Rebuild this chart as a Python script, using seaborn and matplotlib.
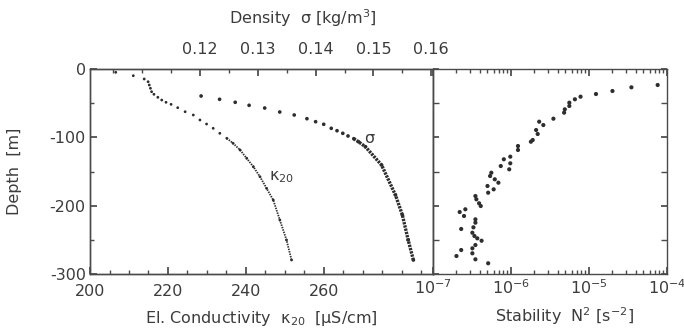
import matplotlib
matplotlib.use("Agg")
import matplotlib.pyplot as plt
import seaborn as sns
import pandas as pd
from matplotlib.ticker import MultipleLocator, FixedLocator, LogLocator, NullFormatter

# ---- data ----
kappa_cond = [206.6, 211.1, 213.9, 214.9, 215.2, 215.5, 215.8, 216.4, 217.4, 218.4,
              219.5, 220.8, 222.5, 224.4, 226.5, 228.2, 229.9, 231.6, 233.3, 235.1,
              236.7, 238.5, 240.2, 241.9, 243.6, 245.3, 247.0, 248.7, 250.4, 251.7]
kappa_depth = [-4.8, -9.8, -14.6, -18.6, -23.4, -28.2, -33.2, -37.0, -41.4, -45.4,
               -48.7, -51.7, -56.6, -62.5, -67.3, -74.6, -80.5, -86.8, -94.1, -101.4,
               -108.7, -118.5, -130.7, -143.0, -157.6, -174.6, -191.7, -221.0, -250.2, -279.5]

sigma_dens = [0.1202, 0.1234, 0.1261, 0.1285, 0.1312, 0.1338, 0.1363, 0.1385, 0.1400,
              0.1414, 0.1427, 0.1437, 0.1447, 0.1456, 0.1466, 0.1474, 0.1486, 0.1514,
              0.1538, 0.1550, 0.1560, 0.1569]
sigma_depth = [-39.5, -44.3, -48.7, -53.1, -57.1, -62.9, -67.3, -72.7, -77.1,
               -80.9, -86.8, -90.3, -94.1, -98.0, -102.0, -106.4, -113.7, -140.5,
               -184.4, -213.7, -250.2, -279.5]

n2_vals = [7.6e-5, 3.5e-5, 2.0e-5, 1.23e-5, 7.8e-6, 6.6e-6, 5.6e-6, 5.6e-6, 4.9e-6, 4.8e-6,
           3.5e-6, 2.3e-6, 2.6e-6, 2.1e-6, 2.2e-6, 1.9e-6, 1.8e-6, 1.23e-6, 1.23e-6, 9.8e-7,
           8.1e-7, 9.8e-7, 7.4e-7, 9.5e-7, 5.6e-7, 5.4e-7, 6.2e-7, 6.9e-7, 5.0e-7, 6.0e-7,
           5.1e-7, 3.5e-7, 3.6e-7, 3.9e-7, 4.1e-7, 2.6e-7, 2.2e-7, 2.5e-7, 3.5e-7, 3.5e-7,
           3.3e-7, 2.3e-7, 3.2e-7, 3.4e-7, 3.7e-7, 4.2e-7, 3.5e-7, 3.2e-7, 2.3e-7, 2.0e-7,
           3.2e-7, 3.5e-7, 5.1e-7]
n2_depth = [-23.4, -26.8, -32.2, -36.6, -40.5, -44.3, -49.3, -54.1, -59.0, -63.9,
            -72.7, -77.1, -82.0, -89.3, -95.1, -103.9, -106.4, -112.7, -118.5, -128.3,
            -132.1, -138.0, -142.0, -146.8, -151.8, -156.6, -161.4, -166.4, -171.2, -176.1,
            -181.0, -185.9, -190.7, -196.5, -200.5, -205.3, -209.3, -215.1, -220.0, -224.9,
            -231.7, -234.1, -239.6, -244.4, -247.8, -251.3, -257.6, -262.4, -264.9, -273.7,
            -269.7, -278.5, -284.3]

cond_ticks = [200, 220, 240, 260]
dens_ticks = [0.12, 0.13, 0.14, 0.15, 0.16]
depth_ticks = [0, -100, -200, -300]
n2_ticks = [1e-7, 1e-6, 1e-5, 1e-4]

# ---- style ----
sns.set_theme(style="ticks")
plt.rcParams['font.family'] = ['DejaVu Sans']
plt.rcParams['axes.unicode_minus'] = False
plt.rcParams['mathtext.default'] = 'regular'
FS = 11.5
TXT = '#3c3c3c'
DOT = '#2e2e2e'
SP = '#4a4a4a'

kdf = pd.DataFrame({'cond': kappa_cond, 'depth': kappa_depth})
sdf = pd.DataFrame({'dens': sigma_dens, 'depth': sigma_depth})
ndf = pd.DataFrame({'n2': n2_vals, 'depth': n2_depth})

fig = plt.figure(figsize=(6.84, 3.31), dpi=100)
fig.patch.set_facecolor('white')
ax1 = fig.add_axes([0.1316, 0.1722, 0.5015, 0.6193])
ax2 = fig.add_axes([0.6330, 0.1722, 0.3421, 0.6193], sharey=ax1)
axT = ax1.twiny()

# conductivity profile
sns.scatterplot(data=kdf, x='cond', y='depth', ax=ax1, s=4, color=DOT,
                edgecolor='none', linewidth=0)
sns.lineplot(data=kdf[kdf['depth'] <= -100], x='cond', y='depth', ax=ax1, sort=False,
             estimator=None, color=DOT, lw=1.3, linestyle=(0, (0.8, 0.6)))

# density profile
sns.scatterplot(data=sdf, x='dens', y='depth', ax=axT, s=7, color=DOT,
                edgecolor='none', linewidth=0)
sns.lineplot(data=sdf[sdf['depth'] <= -102], x='dens', y='depth', ax=axT, sort=False,
             estimator=None, color=DOT, lw=2.4, linestyle=(0, (0.7, 0.3)))

# stability
sns.scatterplot(data=ndf, x='n2', y='depth', ax=ax2, s=9, color=DOT,
                edgecolor='none', linewidth=0)

# ---- axes formatting ----
ax1.set_xlim(200, 288)
ax1.set_ylim(-300, 0)
axT.set_xlim(0.101, 0.1603)
ax2.set_xscale('log')
ax2.set_xlim(1e-7, 1e-4)

for ax in (ax1, ax2, axT):
    for s in ax.spines.values():
        s.set_color(SP)
        s.set_linewidth(1.0)
        s.set_visible(True)

ax1.xaxis.set_major_locator(FixedLocator(cond_ticks))
ax1.xaxis.set_minor_locator(MultipleLocator(5))
ax1.yaxis.set_major_locator(FixedLocator(depth_ticks))
ax1.yaxis.set_minor_locator(MultipleLocator(50))
ax1.tick_params(axis='both', which='both', direction='in', colors=SP,
                labelcolor=TXT, labelsize=FS)
ax1.tick_params(axis='x', which='major', length=5, pad=7, top=False)
ax1.tick_params(axis='x', which='minor', length=3, top=False)
ax1.tick_params(axis='y', which='major', length=5, pad=3, left=True, labelleft=True, right=False)
ax1.tick_params(axis='y', which='minor', length=3, left=True, right=False)

axT.xaxis.set_major_locator(FixedLocator(dens_ticks))
axT.xaxis.set_minor_locator(MultipleLocator(0.005))
axT.tick_params(axis='x', which='both', direction='in', colors=SP,
                labelcolor=TXT, labelsize=FS)
axT.tick_params(axis='x', which='major', length=5, pad=9)
axT.tick_params(axis='x', which='minor', length=3)

ax2.xaxis.set_major_locator(FixedLocator(n2_ticks))
ax2.xaxis.set_minor_locator(LogLocator(base=10, subs=range(2, 10)))
ax2.xaxis.set_minor_formatter(NullFormatter())
ax2.tick_params(axis='both', which='both', direction='in', colors=SP,
                labelcolor=TXT, labelsize=FS)
ax2.tick_params(axis='x', which='major', length=5, pad=3, top=True)
ax2.tick_params(axis='x', which='minor', length=3, top=True)
ax2.tick_params(axis='y', which='both', left=True, right=True, labelleft=False,
                labelright=False, length=4)

# labels
ax1.set_xlabel('El. Conductivity  κ$_{20}$  [µS/cm]', fontsize=FS, color=TXT)
ax1.xaxis.set_label_coords(0.5, -0.17)
ax1.set_ylabel('Depth  [m]', fontsize=FS, color=TXT)
ax1.yaxis.set_label_coords(-0.197, 0.5)
axT.set_xlabel('Density  σ [kg/m$^3$]', fontsize=FS, color=TXT)
axT.xaxis.set_label_coords(0.621, 1.22)
ax2.set_xlabel('Stability  N$^2$ [s$^{-2}$]', fontsize=FS, color=TXT)
ax2.xaxis.set_label_coords(0.564, -0.155)
ax2.set_ylabel('')

ax1.text(271.5, -101, 'σ', fontsize=FS, color=TXT, ha='center', va='center')
ax1.text(249.2, -158, 'κ$_{20}$', fontsize=FS, color=TXT, ha='center', va='center')

fig.savefig('out.png', dpi=100, facecolor='white')
